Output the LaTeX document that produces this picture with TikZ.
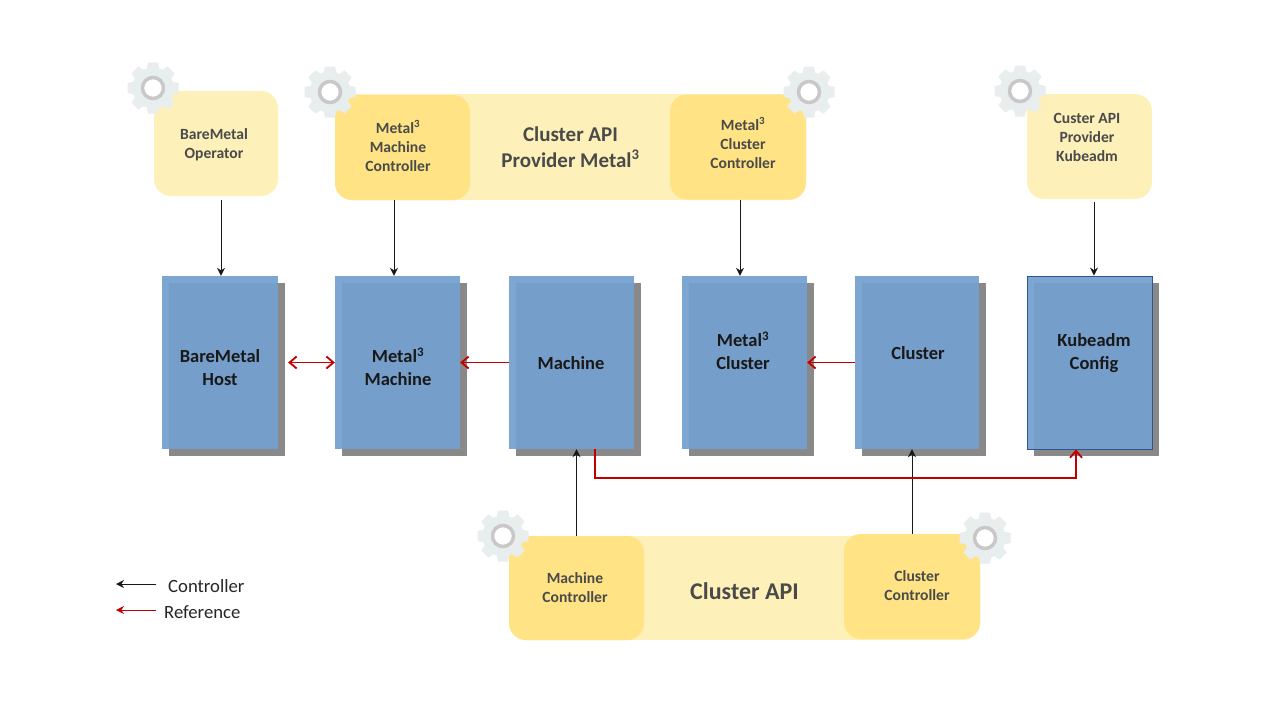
\documentclass[tikz,border=0pt]{standalone}
\usepackage{fontspec}
\setmainfont{Carlito}
\usetikzlibrary{arrows.meta, positioning, shadows}

\definecolor{bandyellow}{HTML}{FEF0B9}
\definecolor{ctrlyellow}{HTML}{FFE384}
\definecolor{blockblue}{HTML}{74A0CF}
\definecolor{blockedge}{HTML}{2F5597}
\definecolor{shadowgrey}{HTML}{898989}
\definecolor{gearbody}{HTML}{E8EDEE}
\definecolor{gearring}{HTML}{C8C8C8}
\definecolor{labelgrey}{HTML}{4A4A4A}
\definecolor{refred}{HTML}{C00000}

\tikzset{
    block/.style={rectangle, inner sep=0pt, minimum width=125pt, minimum height=173pt,
        fill=blockblue, fill opacity=0.93, text opacity=1,
        general shadow={fill=shadowgrey, fill opacity=1, shadow xshift=7pt, shadow yshift=-7pt}},
    band/.style={rectangle, rounded corners=17pt, inner sep=0pt, fill=bandyellow},
    ctrl/.style={rectangle, rounded corners=17pt, inner sep=0pt, fill=ctrlyellow},
    ctrltext/.style={align=center, inner sep=0pt, text=labelgrey, font=\fontsize{15.6}{19}\selectfont\bfseries},
    blocktext/.style={align=center, inner sep=0pt, text=black!90, font=\fontsize{18.5}{23}\selectfont\bfseries},
    legendtext/.style={inner sep=0pt, text=black!85, font=\fontsize{18.7}{21}\selectfont},
    ctrlarrow/.style={-{Stealth[length=8pt, width=8pt]}, line width=1pt, black!90},
    refarrow/.style={-{Straight Barb[length=7pt, width=12pt]}, line width=1.8pt, refred},
    pics/gear/.style={code={
        \foreach \a in {0,45,...,315}
            \fill[gearbody, rotate=\a] (-5,-25.5) -- (5,-25.5) -- (6.5,-18) -- (-6.5,-18) -- cycle;
        \fill[gearbody] (0,0) circle (20.5);
        \draw[gearring, line width=3.5pt, fill=white] (0,0) circle (10.5);
    }},
}

\begin{document}
\begin{tikzpicture}[x=1pt, y=-1pt]
    \useasboundingbox[fill=white] (0,0) rectangle (1280,720);

    % Provider bands
    \node[band, minimum width=471pt, minimum height=106pt] (capm) at (570.5,147) {};
    \node[band, minimum width=471pt, minimum height=104pt] (capi) at (744.5,588) {};
    \node[band, minimum width=124pt, minimum height=105pt] (bmo) at (216,143.5) {};
    \node[band, minimum width=125pt, minimum height=105pt] (cabk) at (1089.5,146.5) {};

    % Controllers
    \node[ctrl, minimum width=135pt, minimum height=105pt] (mmc) at (402.5,147.5) {};
    \node[ctrl, minimum width=136pt, minimum height=105pt] (mcc) at (738,147) {};
    \node[ctrl, minimum width=135pt, minimum height=104pt] (mac) at (576.5,588) {};
    \node[ctrl, minimum width=136pt, minimum height=105pt] (clc) at (912,586.5) {};

    % Blocks
    \node[block, minimum width=116pt] (bmh) at (220,362.5) {};
    \node[block] (m3m) at (397.5,362.5) {};
    \node[block] (mach) at (571.5,362.5) {};
    \node[block] (m3c) at (744.5,362.5) {};
    \node[block, minimum width=124pt] (clus) at (917,362.5) {};
    \node[block, draw=blockedge, line width=0.8pt, minimum width=125pt] (kcfg) at (1089.5,362.5) {};

    % Labels
    \node[ctrltext] (bmotxt) at (214,145) {BareMetal\\Operator};
    \node[ctrltext] (mmctxt) at (398,146) {Metal\textsuperscript{3}\\Machine\\Controller};
    \node[ctrltext] (mcctxt) at (743,143) {Metal\textsuperscript{3}\\Cluster\\Controller};
    \node[ctrltext] (cabktxt) at (1087,137) {Custer API\\Provider\\Kubeadm};
    \node[ctrltext] (mactxt) at (575,588) {Machine\\Controller};
    \node[ctrltext] (clctxt) at (917,586) {Cluster\\Controller};
    \node[ctrltext, font=\fontsize{21}{26}\selectfont\bfseries] (capmtxt) at (570.5,147) {Cluster API\\Provider Metal\textsuperscript{3}};
    \node[ctrltext, font=\fontsize{24}{28}\selectfont\bfseries] (capitxt) at (744.5,591) {Cluster API};
    \node[blocktext] (bmhtxt) at (220,368) {BareMetal\\Host};
    \node[blocktext] (m3mtxt) at (398,367) {Metal\textsuperscript{3}\\Machine};
    \node[blocktext] (machtxt) at (571,363) {Machine};
    \node[blocktext] (m3ctxt) at (743,351) {Metal\textsuperscript{3}\\Cluster};
    \node[blocktext] (clustxt) at (918,353) {Cluster};
    \node[blocktext] (kcfgtxt) at (1094,353) {Kubeadm\\Config};

    % Gears
    \pic at (153,88) {gear};
    \pic at (330,92) {gear};
    \pic at (809,92) {gear};
    \pic at (1020,91) {gear};
    \pic at (503,536) {gear};
    \pic at (985,538) {gear};

    % Controller arrows
    \draw[ctrlarrow, shorten <=4pt] ([xshift=1pt]bmh.north |- bmo.south) -- ([xshift=1pt]bmh.north);
    \draw[ctrlarrow] ([xshift=-3.5pt]m3m.north |- mmc.south) -- ([xshift=-3.5pt]m3m.north);
    \draw[ctrlarrow] ([xshift=-4.5pt]m3c.north |- mcc.south) -- ([xshift=-4.5pt]m3c.north);
    \draw[ctrlarrow, shorten <=3pt] ([xshift=4.5pt]kcfg.north |- cabk.south) -- ([xshift=4.5pt]kcfg.north);
    \draw[ctrlarrow] (mac.north) -- (mac.north |- mach.south);
    \draw[ctrlarrow] (clc.north) -- (clc.north |- clus.south);

    % Reference arrows
    \draw[refarrow, {Straight Barb[length=7pt, width=12pt]}-{Straight Barb[length=7pt, width=12pt]}, shorten <=10pt] (bmh.east) -- (m3m.west);
    \draw[refarrow] (mach.west) -- (m3m.east);
    \draw[refarrow] (clus.west) -- (m3c.east);
    \draw[refarrow] ([xshift=23.5pt]mach.south) -- ++(0,29) -| ([xshift=-13.5pt]kcfg.south);

    % Legend
    \coordinate (lgcs) at (156,584);
    \coordinate (lgce) at (116,584);
    \coordinate (lgrs) at (156,610);
    \coordinate (lgre) at (116,610);
    \draw[-{Stealth[length=8pt, width=8pt]}, line width=0.8pt, black!90] (lgcs) -- (lgce);
    \draw[-{Stealth[length=8pt, width=8pt]}, line width=0.8pt, refred] (lgrs) -- (lgre);
    \node[legendtext, anchor=west] (lgctxt) at (168,586) {Controller};
    \node[legendtext, anchor=west] (lgrtxt) at (164,612) {Reference};
\end{tikzpicture}
\end{document}
